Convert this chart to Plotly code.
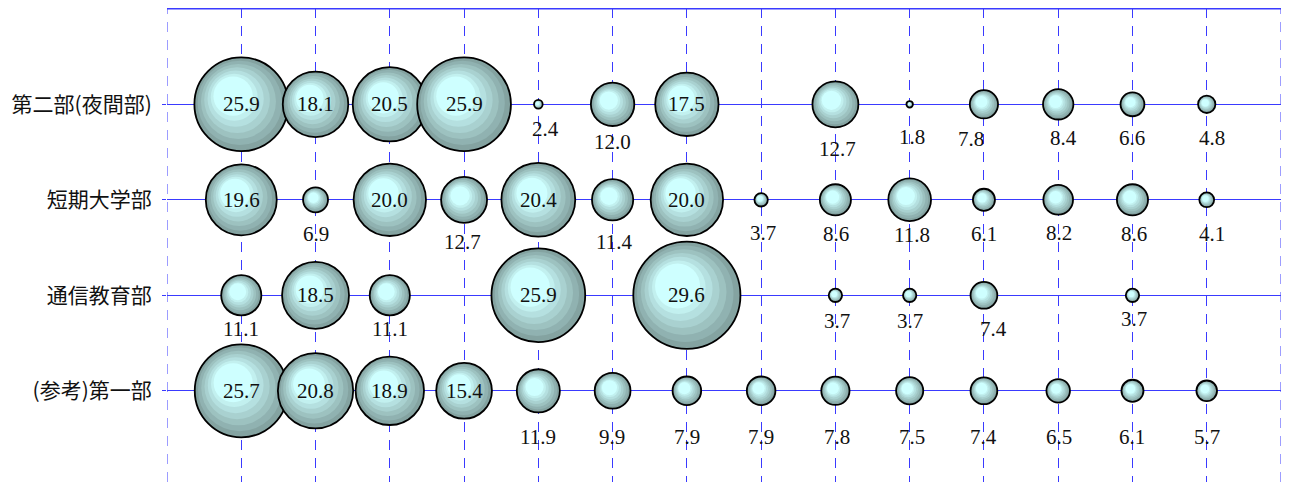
import plotly.graph_objects as go

# ---------------- data ----------------
row_labels = ["第二部(夜間部)", "短期大学部", "通信教育部", "(参考)第一部"]
row_pos = [4, 3, 2, 1]
col_pos = list(range(1, 15))

night = [25.9, 18.1, 20.5, 25.9, 2.4, 12.0, 17.5, None, 12.7, 1.8, 7.8, 8.4, 6.6, 4.8]
junior = [19.6, 6.9, 20.0, 12.7, 20.4, 11.4, 20.0, 3.7, 8.6, 11.8, 6.1, 8.2, 8.6, 4.1]
corresp = [11.1, 18.5, 11.1, None, 25.9, None, 29.6, None, 3.7, 3.7, 7.4, None, 3.7, None]
first = [25.7, 20.8, 18.9, 15.4, 11.9, 9.9, 7.9, 7.9, 7.8, 7.5, 7.4, 6.5, 6.1, 5.7]
series = [night, junior, corresp, first]

# ---------------- style ----------------
# the page body has an 8px default margin, so the figure is offset by 8px
W, H = 1286, 474
ML, MR, MT, MB = 159, 13, 0, 0
XR = [0, 15]
YTOP = 5
PX_X = (W - ML - MR) / (XR[1] - XR[0])
PX_Y = 95.5
YMAX = YTOP + 0.8 / PX_Y
YR = [YMAX - (H - MT - MB) / PX_Y, YMAX]
DIAM_PER_UNIT = 3.62
INSIDE_MIN = 15
BLUE = "#3a3aff"
DASH = "10px,8px"

# label placement (pixel offsets below the bubble centre; 0 = inside)
label_down = [
    [0, 0, 0, 0, 25, 38, 0, 0, 45, 33, 35, 34, 34, 34],
    [0, 34, 0, 42, 0, 42, 0, 33, 34, 35, 34, 33, 34, 34],
    [34, 0, 34, 0, 0, 0, 0, 0, 26, 26, 34, 0, 24, 0],
    [0, 0, 0, 0, 46, 46, 46, 46, 46, 46, 46, 46, 46, 46],
]
label_side = [
    [0, 0, 0, 0, 7, 0, 0, 0, 2, 2, -13, 5, 0, 5],
    [0, 0, 0, -2, 0, 1, 0, 2, 1, 2, 0, 1, 2, 5],
    [0, 0, 0, 0, 0, 0, 0, 0, 2, 0, 10, 0, 2, 0],
    [0, 0, 0, 0, 0, -1, 0, 0, 2, 2, 0, 1, 0, 0],
]

edge = (132, 163, 161)
center = (206, 255, 255)
fracs = [1.0, 0.9, 0.8, 0.7, 0.6, 0.5, 0.42]


def mix(t):
    c = [round(edge[i] + (center[i] - edge[i]) * t) for i in range(3)]
    return f"rgb({c[0]},{c[1]},{c[2]})"


fig = go.Figure()
annotations = []

for ri, (vals, yv) in enumerate(zip(series, row_pos)):
    for ci, (xv, v) in enumerate(zip(col_pos, vals)):
        if v is None:
            continue
        d = v * DIAM_PER_UNIT
        xs, ys, sizes, colors, lw = [], [], [], [], []
        n = len(fracs)
        for k, f in enumerate(fracs):
            shift = (1 - f) * 0.15 * d
            xs.append(xv - shift / PX_X)
            ys.append(yv + shift / PX_Y)
            sizes.append(d * f)
            colors.append(mix(k / (n - 1)))
            lw.append(0)
        xs.append(xv)
        ys.append(yv)
        sizes.append(d)
        colors.append("rgba(0,0,0,0)")
        lw.append(1.8)
        fig.add_trace(go.Scatter(
            x=xs, y=ys, mode="markers", hoverinfo="skip", showlegend=False,
            marker=dict(size=sizes, color=colors, opacity=1,
                        line=dict(color="black", width=lw)),
        ))
        label = f"{v:.1f}"
        ysh = 0 if v >= INSIDE_MIN else -label_down[ri][ci]
        annotations.append(dict(
            x=xv, y=yv, text=label, showarrow=False, yshift=ysh,
            xshift=label_side[ri][ci],
            font=dict(family="Liberation Serif", size=21, color="#111"),
        ))

# vertical dashed lines at plot edges
for xe in XR:
    fig.add_shape(type="line", x0=xe, x1=xe, y0=YR[0], y1=YTOP,
                  xref="x", yref="y", layer="below",
                  line=dict(color=BLUE, width=1, dash=DASH))
# top border line
fig.add_shape(type="line", x0=XR[0], x1=XR[1], y0=YTOP, y1=YTOP,
              xref="x", yref="y", layer="below",
              line=dict(color=BLUE, width=1.5))

fig.update_layout(
    width=W, height=H,
    margin=dict(l=ML, r=MR, t=MT, b=MB, pad=0),
    paper_bgcolor="white", plot_bgcolor="white",
    annotations=annotations,
    xaxis=dict(range=XR, tickvals=col_pos, showticklabels=False, ticks="",
               showgrid=True, gridcolor=BLUE, gridwidth=1, griddash=DASH,
               zeroline=False, showline=False,
               fixedrange=True, automargin=False),
    yaxis=dict(range=YR, tickvals=row_pos, ticktext=row_labels,
               showgrid=True, gridcolor=BLUE, gridwidth=1,
               zeroline=False, showline=False,
               ticks="outside", ticklen=4, tickcolor=BLUE, ticklabelstandoff=6,
               tickfont=dict(family="Noto Sans CJK JP", size=21, color="#111"),
               fixedrange=True, automargin=False),
)

fig.write_html("out.html")
